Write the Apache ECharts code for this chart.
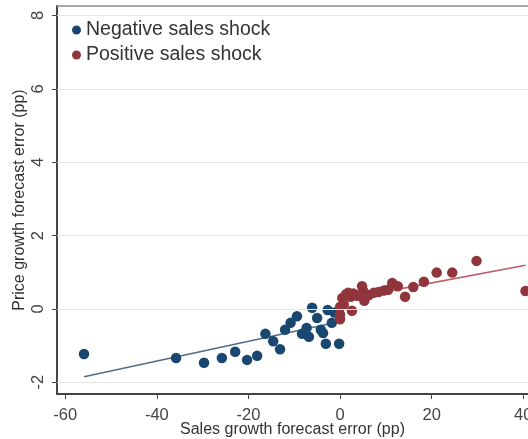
<!DOCTYPE html>
<html>
<head>
<meta charset="utf-8">
<script src="https://cdn.jsdelivr.net/npm/echarts@6/dist/echarts.min.js"></script>
<style>
  html, body { margin: 0; padding: 0; background: #fff; }
  #chart { width: 528px; height: 439px; }
</style>
</head>
<body>
<div id="chart"></div>
<script>
// Sales growth forecast error (x) vs price growth forecast error (y), in pp
const negativeShock = [
  [-55.9, -1.23], [-35.8, -1.34], [-29.7, -1.47], [-25.8, -1.34], [-22.9, -1.17],
  [-20.3, -1.39], [-18.1, -1.28], [-16.3, -0.68], [-14.6, -0.88], [-13.1, -1.10],
  [-12.0, -0.57], [-10.8, -0.38], [-9.4, -0.20], [-8.3, -0.68], [-7.3, -0.52],
  [-6.8, -0.76], [-6.1, 0.03], [-5.0, -0.25], [-4.2, -0.57], [-3.7, -0.66],
  [-3.1, -0.95], [-2.7, -0.03], [-1.8, -0.38], [-1.2, -0.10], [-0.2, -0.95]
];
const positiveShock = [
  [0.0, -0.28], [0.0, -0.15], [0.0, 0.05], [0.5, 0.30], [0.8, 0.12],
  [1.3, 0.40], [1.8, 0.44], [2.3, 0.33], [2.6, -0.05], [2.9, 0.42],
  [3.7, 0.36], [4.8, 0.62], [5.0, 0.50], [5.3, 0.22], [6.3, 0.38],
  [7.4, 0.44], [8.4, 0.46], [9.6, 0.50], [10.5, 0.52], [11.4, 0.71],
  [12.6, 0.62], [14.2, 0.33], [16.0, 0.60], [18.3, 0.74], [21.1, 0.99],
  [24.5, 0.99], [29.8, 1.31], [40.5, 0.49]
];
// Linear fit endpoints for each group
const negativeFit = [[-55.9, -1.85], [-0.2, -0.35]];
const positiveFit = [[0.0, 0.24], [40.5, 1.19]];

const xTicks = [-60, -40, -20, 0, 20, 40];
const yTicks = [-2, 0, 2, 4, 6, 8];

const NAVY = '#1a476f';
const MAROON = '#90353b';
const FONT = 'Liberation Sans, Arial, sans-serif';

const X_MIN = -61.8, X_MAX = 41.04;

const chart = echarts.init(document.getElementById('chart'), null, { renderer: 'canvas' });

chart.setOption({
  animation: false,
  backgroundColor: '#ffffff',
  textStyle: { fontFamily: FONT },
  grid: { left: 57, top: 6, right: 0, height: 388, outerBoundsMode: 'none', containLabel: false },
  legend: {
    data: ['Negative sales shock', 'Positive sales shock'],
    orient: 'vertical',
    left: 67, top: 15,
    icon: 'circle',
    itemWidth: 9, itemHeight: 9,
    itemGap: 5,
    textStyle: { fontSize: 19.5, color: '#333', fontFamily: FONT }
  },
  xAxis: [
    {
      type: 'value',
      min: X_MIN, max: X_MAX,
      name: 'Sales growth forecast error (pp)',
      nameLocation: 'middle',
      nameGap: 28,
      nameMoveOverlap: false,
      nameTextStyle: { fontSize: 16, color: '#333', fontFamily: FONT },
      axisLine: { show: true, onZero: false, lineStyle: { color: '#444', width: 2 } },
      axisTick: { show: true, customValues: xTicks, length: 5, lineStyle: { color: '#444' } },
      axisLabel: { customValues: xTicks, fontSize: 16.5, color: '#444', margin: 13 },
      splitLine: { show: false }
    },
    {
      // top frame of the plot region
      type: 'value',
      position: 'top',
      min: X_MIN, max: X_MAX,
      axisLine: { show: true, onZero: false, lineStyle: { color: '#8a8a8a', width: 1.5 } },
      axisTick: { show: false },
      axisLabel: { show: false },
      splitLine: { show: false }
    }
  ],
  yAxis: {
    type: 'value',
    min: -2.32, max: 8.26,
    name: 'Price growth forecast error (pp)',
    nameLocation: 'middle',
    nameGap: 29,
    nameMoveOverlap: false,
    nameTextStyle: { fontSize: 16, color: '#333', fontFamily: FONT },
    axisLine: { show: true, onZero: false, lineStyle: { color: '#444', width: 2 } },
    axisTick: { show: true, customValues: yTicks, length: 5, lineStyle: { color: '#444' } },
    axisLabel: { customValues: yTicks, fontSize: 16.5, color: '#444', rotate: 90, margin: 10 },
    splitLine: { show: false }
  },
  series: [
    {
      name: 'gridlines',
      type: 'line',
      data: [],
      silent: true,
      markLine: {
        silent: true,
        symbol: 'none',
        label: { show: false },
        lineStyle: { color: '#e6e6e6', width: 1, type: 'solid' },
        data: yTicks.map(v => ({ yAxis: v }))
      }
    },
    {
      name: 'negFit',
      type: 'line',
      data: negativeFit,
      symbol: 'none',
      z: 2,
      lineStyle: { color: '#4f6d8c', width: 1.6 }
    },
    {
      name: 'posFit',
      type: 'line',
      data: positiveFit,
      symbol: 'none',
      z: 2,
      lineStyle: { color: '#bd5c66', width: 1.6 }
    },
    {
      name: 'Negative sales shock',
      type: 'scatter',
      data: negativeShock,
      symbol: 'circle',
      symbolSize: 10.5,
      z: 3,
      itemStyle: { color: NAVY, opacity: 1 }
    },
    {
      name: 'Positive sales shock',
      type: 'scatter',
      data: positiveShock,
      symbol: 'circle',
      symbolSize: 10.5,
      z: 3,
      itemStyle: { color: MAROON, opacity: 1 }
    }
  ]
});
</script>
</body>
</html>
